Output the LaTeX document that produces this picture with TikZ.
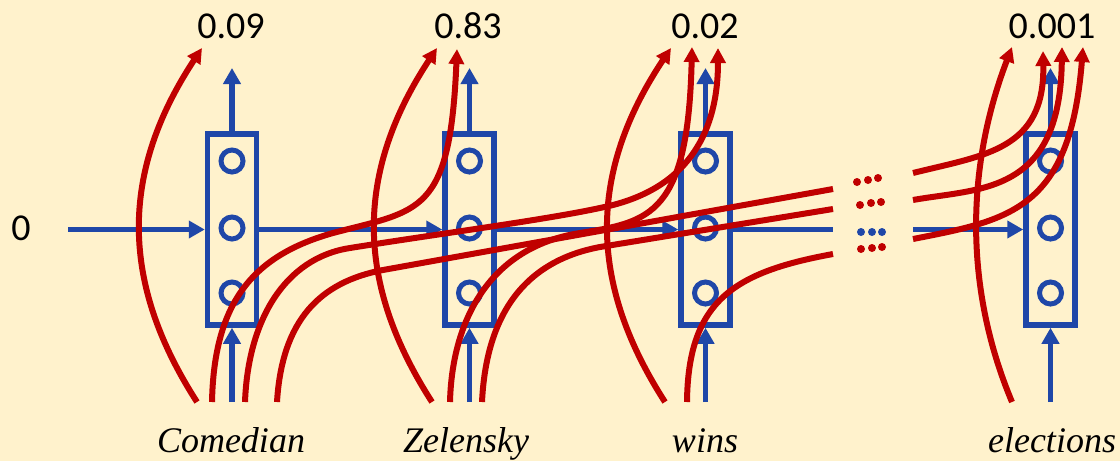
\documentclass[tikz,border=0pt]{standalone}
\usepackage{fontspec}
\setmainfont{Liberation Serif}
\newfontfamily\numfont{Carlito}
\usetikzlibrary{arrows.meta}
\definecolor{bg}{RGB}{255,242,204}
\definecolor{myblue}{RGB}{31,71,168}
\definecolor{myred}{RGB}{192,0,0}
\begin{document}
\begin{tikzpicture}[x=1pt,y=-1pt,
  bl/.style={draw=myblue,line width=5.5pt},
  blarrow/.style={bl,-{Triangle[length=16pt,width=17pt]}},
  rd/.style={draw=myred,line width=6pt},
  rdarrow/.style={rd,-{Triangle[length=15pt,width=15pt]}},
  cell/.style={draw=myblue,line width=5.5pt,minimum width=49pt,minimum height=191pt,inner sep=0pt},
  unit/.style={draw=myblue,line width=5pt,circle,minimum size=22pt,inner sep=0pt},
  num/.style={font=\numfont\fontsize{38}{40}\selectfont,anchor=base,inner sep=0pt},
  word/.style={font=\itshape\fontsize{36}{38}\selectfont,anchor=base,inner sep=0pt},
  dotr/.style={fill=myred},
  dotb/.style={fill=myblue}
]
\fill[bg] (0,0) rectangle (1120,461);
\useasboundingbox (0,0) rectangle (1120,461);

% cells
\foreach \n/\x in {1/232,2/469.5,3/705.5,4/1050.5}{
  \node[cell] (b\n) at (\x,229.5) {};
  \node[unit] (u\n a) at (\x,161) {};
  \node[unit] (u\n b) at (\x,228) {};
  \node[unit] (u\n c) at (\x,293) {};
  \coordinate (top\n) at (\x,68);
  \coordinate (in\n) at (\x,402);
  \draw[blarrow] (b\n.north) -- (top\n);
  \draw[blarrow] (in\n) -- (b\n.south);
}
\coordinate (h0) at (68,229.5);
\coordinate (gapL) at (833,229.5);
\coordinate (gapR) at (913,229.5);
\draw[blarrow] (h0) -- (b1.west);
\draw[blarrow] (b1.east) -- (b2.west);
\draw[blarrow] (b2.east) -- (b3.west);
\draw[bl] (b3.east) -- (gapL);
\draw[blarrow] (gapR) -- (b4.west);

% dots
\foreach \p in {(857,182),(868,180),(878,178),(860,205),(871,203),(881,202),(861,249),(872,248),(882,247)}
  \fill[dotr] \p circle (4);
\foreach \p in {(861,232),(872,232),(882,232)}
  \fill[dotb] \p circle (4);

% red start / end points
\coordinate (C0s) at (197,402); \coordinate (C1s) at (212,402);
\coordinate (C2s) at (245,402); \coordinate (C3s) at (277,402);
\coordinate (Z0s) at (432,402); \coordinate (Z1s) at (450,402);
\coordinate (Z2s) at (482,402);
\coordinate (W0s) at (665,402); \coordinate (W1s) at (687,402);
\coordinate (E0s) at (1012,402);
\coordinate (a1) at (202,48);
\coordinate (a2l) at (437,48); \coordinate (a2r) at (457,49);
\coordinate (a3l) at (671,48); \coordinate (a3m) at (692,47); \coordinate (a3r) at (718,48);
\coordinate (a4a) at (1012,47); \coordinate (a4b) at (1043,51);
\coordinate (a4c) at (1062,47); \coordinate (a4d) at (1083,47);
\coordinate (gC3) at (833,189); \coordinate (gZ2) at (833,209); \coordinate (gW1) at (833,254);
\coordinate (rC3) at (913,173); \coordinate (rZ2) at (913,200); \coordinate (rW1) at (913,239);

% Comedian
\draw[rdarrow] (C0s) .. controls (125,290) and (115,180) .. (a1);
\draw[rdarrow] (C1s) .. controls (214,300) and (255,255) .. (333,233)
                     .. controls (420,210) and (450,215) .. (a2r);
\draw[rdarrow] (C2s) .. controls (248,320) and (285,258) .. (350,248)
                     .. controls (450,232) and (560,218) .. (613,205)
                     .. controls (690,185) and (718,130) .. (a3r);
\draw[rd] (C3s) .. controls (282,320) and (320,282) .. (383,270) -- (gC3);
\draw[rdarrow] (rC3) .. controls (985,155) and (1045,150) .. (a4b);
% Zelensky
\draw[rdarrow] (Z0s) .. controls (360,290) and (350,180) .. (a2l);
\draw[rdarrow] (Z1s) .. controls (452,320) and (490,247) .. (580,233)
                     .. controls (650,222) and (688,215) .. (a3m);
\draw[rd] (Z2s) .. controls (486,320) and (520,262) .. (600,247) -- (gZ2);
\draw[rdarrow] (rZ2) .. controls (980,188) and (1060,195) .. (a4c);
% wins
\draw[rdarrow] (W0s) .. controls (593,290) and (583,180) .. (a3l);
\draw[rd] (W1s) .. controls (688,300) and (735,272) .. (gW1);
\draw[rdarrow] (rW1) .. controls (1010,220) and (1070,210) .. (a4d);
% elections
\draw[rdarrow] (E0s) .. controls (965,290) and (965,170) .. (a4a);

% texts
\node[num] (zero) at (21,240) {0};
\node[num] (o1) at (231,38) {0.09};
\node[num] (o2) at (468,38) {0.83};
\node[num] (o3) at (705,38) {0.02};
\node[num] (o4) at (1052,38) {0.001};
\node[word] (w1) at (231,452) {Comedian};
\node[word] (w2) at (466,452) {Zelensky};
\node[word] (w3) at (705,452) {wins};
\node[word] (w4) at (1052,452) {elections};
\end{tikzpicture}
\end{document}
